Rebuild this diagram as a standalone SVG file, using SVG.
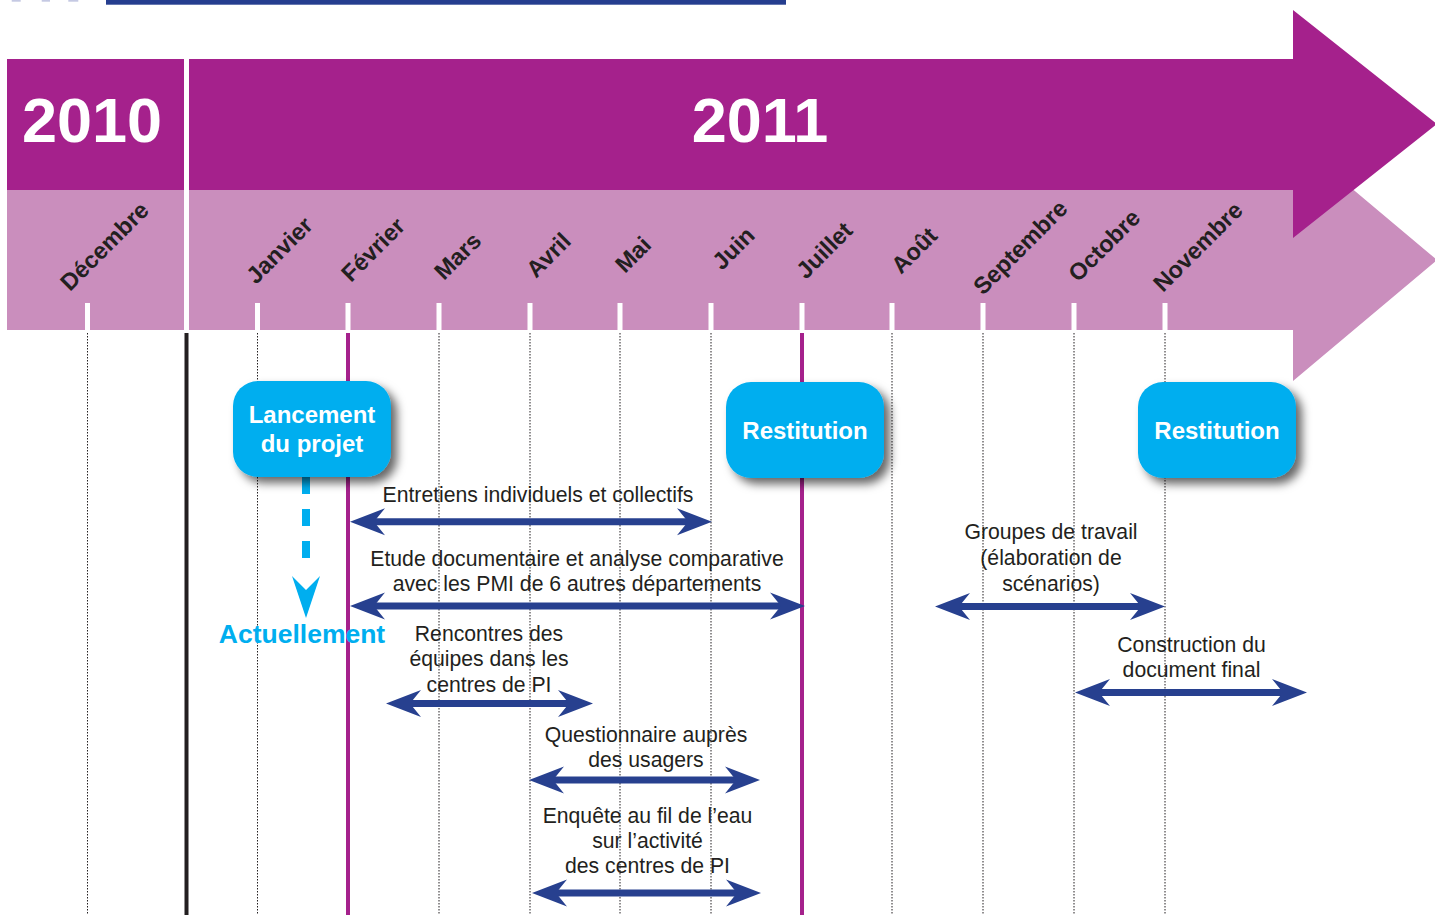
<svg xmlns="http://www.w3.org/2000/svg" width="1435" height="915" viewBox="0 0 1435 915">
<defs>
<style>
.mon{font-family:"Liberation Sans",Arial,sans-serif;font-weight:bold;font-size:23.5px;fill:#231f20}
.yr{font-family:"Liberation Sans",Arial,sans-serif;font-weight:bold;font-size:63px;fill:#fff;text-anchor:middle}
.lbl{font-family:"Liberation Sans",Arial,sans-serif;font-size:21.2px;fill:#231f20;text-anchor:middle}
.ntx{font-family:"Liberation Sans",Arial,sans-serif;font-weight:bold;font-size:24px;fill:#fff;text-anchor:middle}
.nbox{fill:#00aeef}
.tick{fill:#fff}
.dot{stroke:#231f20;stroke-width:1;stroke-dasharray:1.5 1.5;fill:none}
.pl{stroke:#a5218c;stroke-width:4}
.dbl{stroke:#27408f;stroke-width:7;fill:none;marker-start:url(#hd);marker-end:url(#hd)}
</style>
<marker id="hd" markerUnits="userSpaceOnUse" viewBox="-12 -15 37 30" refX="0" refY="0" markerWidth="37" markerHeight="30" orient="auto-start-reverse" overflow="visible">
<path d="M24,0 L-11,-13.5 L0,0 L-11,13.5 Z" fill="#27408f"/>
</marker>
<filter id="sh" x="-20%" y="-20%" width="150%" height="150%">
<feDropShadow dx="6" dy="6" stdDeviation="5" flood-color="#000" flood-opacity="0.6"/>
</filter>
</defs>
<rect x="0" y="0" width="1435" height="915" fill="#fff"/>
<rect x="11.7" y="0" width="9" height="1.7" fill="#c5c9e3"/>
<rect x="41.7" y="0" width="8.3" height="1.7" fill="#c5c9e3"/>
<rect x="68.3" y="0" width="10" height="1.7" fill="#c5c9e3"/>
<rect x="106" y="0" width="680" height="4.7" fill="#253e8f"/>
<g id="band">
<rect x="7" y="190" width="177" height="140" fill="#ca8ebd"/>
<path d="M189,190 H1293 V139 L1437,260 L1293,381 V330 H189 Z" fill="#ca8ebd"/>
<rect x="7" y="59" width="177" height="131" fill="#a5218c"/>
<path d="M189,59 H1293 V10 L1437,124 L1293,238 V190 H189 Z" fill="#a5218c"/>
<text class="yr" x="92" y="142">2010</text>
<text class="yr" x="760" y="142">2011</text>
</g>
<g id="months">
<rect class="tick" x="85" y="303" width="5" height="27"/>
<rect class="tick" x="255" y="303" width="5" height="27"/>
<rect class="tick" x="345.5" y="303" width="5" height="27"/>
<rect class="tick" x="436.5" y="303" width="5" height="27"/>
<rect class="tick" x="527.5" y="303" width="5" height="27"/>
<rect class="tick" x="617.5" y="303" width="5" height="27"/>
<rect class="tick" x="708.5" y="303" width="5" height="27"/>
<rect class="tick" x="799.5" y="303" width="5" height="27"/>
<rect class="tick" x="889.5" y="303" width="5" height="27"/>
<rect class="tick" x="980.5" y="303" width="5" height="27"/>
<rect class="tick" x="1071.5" y="303" width="5" height="27"/>
<rect class="tick" x="1162.5" y="303" width="5" height="27"/>
<text class="mon" transform="translate(70,292) rotate(-45)">Décembre</text>
<text class="mon" transform="translate(256,285) rotate(-45)">Janvier</text>
<text class="mon" transform="translate(351,283) rotate(-45)">Février</text>
<text class="mon" transform="translate(444,281) rotate(-45)">Mars</text>
<text class="mon" transform="translate(536,279) rotate(-45)">Avril</text>
<text class="mon" transform="translate(625,274) rotate(-45)">Mai</text>
<text class="mon" transform="translate(722,271) rotate(-45)">Juin</text>
<text class="mon" transform="translate(806,280) rotate(-45)">Juillet</text>
<text class="mon" transform="translate(901,275) rotate(-45)">Août</text>
<text class="mon" transform="translate(983,296) rotate(-45)">Septembre</text>
<text class="mon" transform="translate(1078,283) rotate(-45)">Octobre</text>
<text class="mon" transform="translate(1163,293) rotate(-45)">Novembre</text>
</g>
<g id="grid">
<line class="dot" x1="87.5" y1="333" x2="87.5" y2="915"/>
<line class="dot" x1="257.5" y1="333" x2="257.5" y2="915"/>
<line class="dot" x1="439" y1="333" x2="439" y2="915"/>
<line class="dot" x1="530" y1="333" x2="530" y2="915"/>
<line class="dot" x1="620" y1="333" x2="620" y2="915"/>
<line class="dot" x1="711" y1="333" x2="711" y2="915"/>
<line class="dot" x1="892" y1="333" x2="892" y2="915"/>
<line class="dot" x1="983" y1="333" x2="983" y2="915"/>
<line class="dot" x1="1074" y1="333" x2="1074" y2="915"/>
<line class="dot" x1="1165" y1="333" x2="1165" y2="915"/>
<line x1="186.5" y1="333" x2="186.5" y2="915" stroke="#231f20" stroke-width="4"/>
<line class="pl" x1="348" y1="333" x2="348" y2="915"/>
<line class="pl" x1="802" y1="333" x2="802" y2="915"/>
</g>
<g id="connectors">
<line x1="306" y1="477" x2="306" y2="562" stroke="#00aeef" stroke-width="8" stroke-dasharray="17 15"/>
<path d="M306,618 L292,576 L306,590 L320,576 Z" fill="#00aeef"/>
<line class="dbl" x1="374" y1="521.7" x2="688" y2="521.7"/>
<line class="dbl" x1="374" y1="606" x2="781" y2="606"/>
<line class="dbl" x1="959" y1="606.5" x2="1141" y2="606.5"/>
<line class="dbl" x1="1099" y1="692.5" x2="1283" y2="692.5"/>
<line class="dbl" x1="410" y1="703.5" x2="569" y2="703.5"/>
<line class="dbl" x1="553" y1="780" x2="736" y2="780"/>
<line class="dbl" x1="556" y1="893" x2="737" y2="893"/>
</g>
<g id="labels">
<text class="lbl" x="538" y="502">Entretiens individuels et collectifs</text>
<text class="lbl" x="577" y="566">Etude documentaire et analyse comparative</text>
<text class="lbl" x="577" y="591">avec les PMI de 6 autres départements</text>
<text class="lbl" x="1051" y="539">Groupes de travail</text>
<text class="lbl" x="1051" y="565">(élaboration de</text>
<text class="lbl" x="1051" y="591">scénarios)</text>
<text class="lbl" x="1191.5" y="652">Construction du</text>
<text class="lbl" x="1191.5" y="677">document final</text>
<text class="lbl" x="489" y="641">Rencontres des</text>
<text class="lbl" x="489" y="666">équipes dans les</text>
<text class="lbl" x="489" y="692">centres de PI</text>
<text class="lbl" x="646" y="742">Questionnaire auprès</text>
<text class="lbl" x="646" y="767">des usagers</text>
<text class="lbl" x="647.5" y="823">Enquête au fil de l’eau</text>
<text class="lbl" x="647.5" y="848">sur l’activité</text>
<text class="lbl" x="647.5" y="873">des centres de PI</text>
<text x="302" y="643" font-family="Liberation Sans, Arial, sans-serif" font-weight="bold" font-size="26.5" fill="#00aeef" text-anchor="middle">Actuellement</text>
</g>
<g id="node-lancement">
<rect class="nbox" x="233" y="381" width="158" height="96" rx="25" filter="url(#sh)"/>
<text class="ntx" x="312" y="423">Lancement</text>
<text class="ntx" x="312" y="452">du projet</text>
</g>
<g id="node-restitution1">
<rect class="nbox" x="726" y="382" width="158" height="96" rx="25" filter="url(#sh)"/>
<text class="ntx" x="805" y="439">Restitution</text>
</g>
<g id="node-restitution2">
<rect class="nbox" x="1138" y="382" width="158" height="96" rx="25" filter="url(#sh)"/>
<text class="ntx" x="1217" y="439">Restitution</text>
</g>
</svg>
